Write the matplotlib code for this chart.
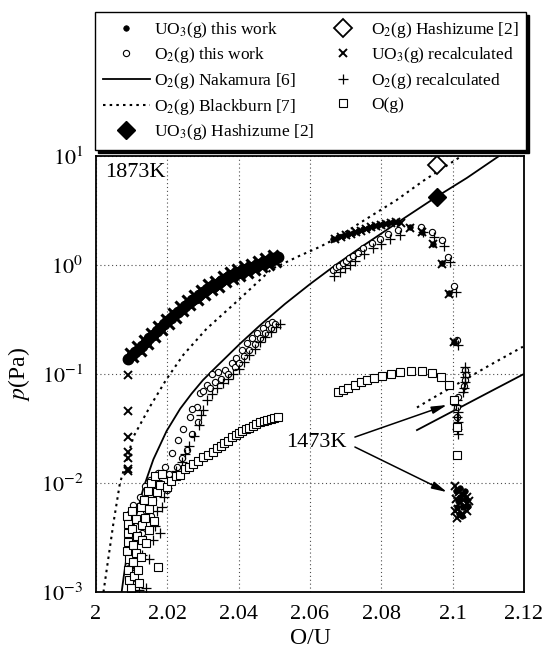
import matplotlib.pyplot as plt
from matplotlib.ticker import NullLocator

plt.rcParams['font.family'] = ['Liberation Serif', 'DejaVu Serif']
plt.rcParams['mathtext.fontset'] = 'stix'

# ---- model curves ----
nak_x = [2.0072, 2.0078, 2.0086, 2.0105, 2.0133, 2.0161, 2.0198, 2.0236, 2.0268, 2.0300,
         2.0338, 2.0404, 2.0460, 2.0530, 2.0600, 2.0670, 2.0750, 2.0850, 2.0955, 2.1040,
         2.1130]
nak_p = [0.0010, 0.0014, 0.0021, 0.0040, 0.0090, 0.0165, 0.030, 0.048, 0.066, 0.088,
         0.117, 0.190, 0.280, 0.440, 0.668, 0.99, 1.51, 2.51, 4.23, 6.3,
         10.0]
nak1473_x = [2.0900, 2.0936, 2.1105, 2.1197]
nak1473_p = [0.0306, 0.0353, 0.0689, 0.099]

bb_x = [2.0021, 2.0049, 2.0067, 2.0105, 2.0151, 2.0198, 2.0245, 2.0310, 2.0394, 2.0493,
        2.0572, 2.0628, 2.0665, 2.0750, 2.0843, 2.0917, 2.1025]
bb_p = [0.0010, 0.0043, 0.0099, 0.0266, 0.050, 0.090, 0.150, 0.260, 0.46, 0.92,
        1.22, 1.47, 1.70, 2.55, 3.95, 5.9, 10.0]
bb1473_x = [2.0900, 2.0936, 2.1105, 2.1197]
bb1473_p = [0.0493, 0.058, 0.121, 0.178]

# ---- UO3(g) this work ----
uo3_band_x = [2.009, 2.010, 2.011, 2.012, 2.013, 2.014, 2.015, 2.016, 2.017, 2.018,
              2.019, 2.020, 2.021, 2.022, 2.023, 2.024, 2.025, 2.026, 2.027, 2.028,
              2.029, 2.030, 2.031, 2.032, 2.033, 2.034, 2.035, 2.036, 2.037, 2.038,
              2.039, 2.040, 2.041, 2.042, 2.043, 2.044, 2.045, 2.046, 2.047, 2.048,
              2.049, 2.050, 2.051]
uo3_band_p = [0.138, 0.149, 0.160, 0.170, 0.182, 0.197, 0.213, 0.228, 0.246, 0.265,
              0.285, 0.305, 0.325, 0.345, 0.370, 0.395, 0.420, 0.450, 0.475, 0.500,
              0.530, 0.560, 0.600, 0.625, 0.645, 0.670, 0.710, 0.740, 0.770, 0.800,
              0.830, 0.855, 0.880, 0.905, 0.930, 0.960, 0.990, 1.020, 1.050, 1.080,
              1.110, 1.150, 1.190]
uo3_hi_x = [2.0665, 2.0679, 2.0693, 2.0707, 2.0721, 2.0735, 2.0749, 2.0763, 2.0777, 2.0791,
            2.0805, 2.0820, 2.0834, 2.0848, 2.0880, 2.0913, 2.0944, 2.0969, 2.0990, 2.1004]
uo3_hi_p = [1.72, 1.80, 1.85, 1.91, 1.98, 2.05, 2.12, 2.20, 2.28, 2.33,
            2.38, 2.44, 2.47, 2.47, 2.22, 2.02, 1.56, 1.04, 0.55, 0.198]
uo3_1473_x = [2.1010, 2.1015, 2.1022, 2.1030, 2.1038, 2.1012, 2.1025, 2.1020, 2.1035,
              2.1042, 2.1018, 2.1028]
uo3_1473_p = [0.0085, 0.0068, 0.0075, 0.0060, 0.0072, 0.0060, 0.0050, 0.0090, 0.0085,
              0.0062, 0.0052, 0.0080]

# ---- UO3(g) recalculated ----
uo3rc_band_x = [2.0095, 2.0105, 2.0115, 2.0125, 2.0135, 2.0145, 2.0155, 2.0165, 2.0175,
                2.0185, 2.0195, 2.0205, 2.0215, 2.0225, 2.0235, 2.0245, 2.0255, 2.0265,
                2.0275, 2.0285, 2.0295, 2.0305, 2.0315, 2.0325, 2.0335, 2.0345, 2.0355,
                2.0365, 2.0375, 2.0385, 2.0395, 2.0405, 2.0415, 2.0425, 2.0435, 2.0445,
                2.0455, 2.0465, 2.0475, 2.0485, 2.0495, 2.0505]
uo3rc_band_p = [0.156, 0.142, 0.180, 0.162, 0.207, 0.189, 0.240, 0.218, 0.278,
                0.253, 0.322, 0.290, 0.365, 0.329, 0.417, 0.375, 0.474, 0.426,
                0.531, 0.474, 0.594, 0.534, 0.668, 0.584, 0.717, 0.635, 0.790,
                0.695, 0.856, 0.750, 0.918, 0.798, 0.973, 0.844, 1.030, 0.897,
                1.095, 0.952, 1.161, 1.007, 1.232, 1.076]
uo3rc_col_x = [2.0091, 2.0091, 2.0091, 2.0091, 2.0091, 2.0091, 2.0091]
uo3rc_col_p = [0.098, 0.046, 0.0266, 0.0194, 0.0168, 0.0134, 0.0128]
uo3rc_hi_x = [2.0670, 2.0686, 2.0700, 2.0714, 2.0728, 2.0742, 2.0756, 2.0770, 2.0784, 2.0798,
              2.0812, 2.0827, 2.0841, 2.0855, 2.0880, 2.0913, 2.0944, 2.0969, 2.0990, 2.1004]
uo3rc_hi_p = [1.74, 1.79, 1.88, 1.93, 2.00, 2.07, 2.14, 2.22, 2.27, 2.35,
              2.40, 2.45, 2.48, 2.45, 2.20, 2.00, 1.55, 1.03, 0.54, 0.196]
uo3rc_1473_x = [2.1006, 2.1010, 2.1020, 2.1015, 2.1030, 2.1040, 2.1025, 2.1012, 2.1035,
                2.1045, 2.1018, 2.1028, 2.1008, 2.1040]
uo3rc_1473_p = [0.0093, 0.0072, 0.0065, 0.0058, 0.0080, 0.0075, 0.0052, 0.0048, 0.0062,
                0.0068, 0.0083, 0.0070, 0.0055, 0.0055]

# ---- O2(g) this work ----
o2_low_x = [2.0100, 2.0095, 2.0091, 2.0091, 2.0095, 2.0105, 2.0123, 2.0137, 2.0151, 2.0175,
            2.0193, 2.0212, 2.0231, 2.0245, 2.0264, 2.0282, 2.0292, 2.0254, 2.0226, 2.0198,
            2.0161, 2.0140, 2.0120, 2.0110, 2.0105, 2.0130, 2.0155, 2.0180, 2.0205, 2.0240,
            2.0270, 2.0285, 2.0268, 2.0300, 2.0310, 2.0320, 2.0324, 2.0335, 2.0343, 2.0350,
            2.0362, 2.0370, 2.0380, 2.0390, 2.0394, 2.0400, 2.0409, 2.0415, 2.0423, 2.0430,
            2.0437, 2.0445, 2.0451, 2.0460, 2.0469, 2.0475, 2.0483, 2.0490, 2.0493, 2.0502]
o2_low_p = [0.0012, 0.0017, 0.0026, 0.0037, 0.0053, 0.0063, 0.0075, 0.0093, 0.0107, 0.0123,
            0.0141, 0.0187, 0.0248, 0.031, 0.040, 0.050, 0.0665, 0.020, 0.0141, 0.0086,
            0.0070, 0.0055, 0.0045, 0.0030, 0.0021, 0.0035, 0.0050, 0.0100, 0.0120, 0.0170,
            0.028, 0.036, 0.048, 0.070, 0.080, 0.075, 0.101, 0.085, 0.105, 0.090,
            0.109, 0.100, 0.125, 0.115, 0.139, 0.125, 0.166, 0.145, 0.191, 0.165,
            0.212, 0.190, 0.236, 0.215, 0.262, 0.240, 0.288, 0.265, 0.302, 0.290]
o2_hi_x = [2.0665, 2.0672, 2.0680, 2.0693, 2.0700, 2.0710, 2.0721, 2.0735, 2.0749, 2.0773,
           2.0796, 2.0820, 2.0848, 2.0910, 2.0941, 2.0969, 2.0988, 2.1004, 2.1011]
o2_hi_p = [0.90, 0.95, 0.98, 1.04, 1.08, 1.15, 1.21, 1.30, 1.42, 1.58,
           1.72, 1.92, 2.10, 2.24, 2.02, 1.69, 1.19, 0.64, 0.205]
o2_1473_x = [2.1035, 2.1037, 2.1035, 2.1033, 2.1015, 2.1012, 2.1013, 2.1015]
o2_1473_p = [0.110, 0.098, 0.088, 0.078, 0.062, 0.050, 0.040, 0.033]

# ---- O2(g) recalculated ----
o2rc_low_x = [2.0105, 2.0120, 2.0140, 2.0112, 2.0130, 2.0150, 2.0160, 2.0165, 2.0179, 2.0170,
              2.0185, 2.0190, 2.0200, 2.0215, 2.0225, 2.0240, 2.0250, 2.0262, 2.0275, 2.0288,
              2.0295, 2.0300, 2.0310, 2.0325, 2.0340, 2.0355, 2.0370, 2.0385, 2.0400, 2.0415,
              2.0430, 2.0445, 2.0460, 2.0475, 2.0490, 2.0505, 2.0515]
o2rc_low_p = [0.00102, 0.00105, 0.00108, 0.0016, 0.0022, 0.0020, 0.0030, 0.0040, 0.0035, 0.0055,
              0.0060, 0.0075, 0.0090, 0.0110, 0.0130, 0.0155, 0.0185, 0.022, 0.027, 0.034,
              0.042, 0.047, 0.058, 0.065, 0.075, 0.082, 0.090, 0.100, 0.112, 0.130,
              0.150, 0.170, 0.195, 0.220, 0.245, 0.270, 0.285]
o2rc_hi_x = [2.0668, 2.0683, 2.0698, 2.0712, 2.0726, 2.0752, 2.0777, 2.0800, 2.0825, 2.0853,
             2.0916, 2.0947, 2.0975, 2.0994, 2.1009, 2.1015]
o2rc_hi_p = [0.80, 0.86, 0.93, 1.00, 1.08, 1.27, 1.42, 1.55, 1.73, 1.90,
             2.00, 1.80, 1.50, 1.06, 0.57, 0.185]
o2rc_1473_x = [2.1035, 2.1036, 2.1034, 2.1036, 2.1033, 2.1030, 2.1012, 2.1010, 2.1014,
               2.1012, 2.1015, 2.1013, 2.1016]
o2rc_1473_p = [0.115, 0.105, 0.094, 0.085, 0.075, 0.068, 0.058, 0.052, 0.045,
               0.040, 0.036, 0.031, 0.028]

# ---- O(g) ----
og_low_x = [2.0088, 2.0090, 2.0089, 2.0091, 2.0088, 2.0092, 2.0090, 2.0093, 2.0098, 2.0100,
            2.0102, 2.0105, 2.0104, 2.0108, 2.0112, 2.0115, 2.0113, 2.0118, 2.0120, 2.0125,
            2.0128, 2.0130, 2.0127, 2.0135, 2.0138, 2.0140, 2.0145, 2.0148, 2.0150, 2.0155,
            2.0158, 2.0162, 2.0165, 2.0170, 2.0175, 2.0180, 2.0185, 2.0198, 2.0210, 2.0225,
            2.0236, 2.0250, 2.0262, 2.0273, 2.0285, 2.0300, 2.0315, 2.0329, 2.0340, 2.0350,
            2.0360, 2.0370, 2.0382, 2.0394, 2.0402, 2.0410, 2.0420, 2.0430, 2.0440, 2.0450,
            2.0460, 2.0470, 2.0480, 2.0490, 2.0500, 2.0511]
og_low_p = [0.0050, 0.0042, 0.0035, 0.0029, 0.0024, 0.0020, 0.0016, 0.0013, 0.0011, 0.0055,
            0.0038, 0.0027, 0.0019, 0.0014, 0.0047, 0.0033, 0.0023, 0.0016, 0.0012, 0.0060,
            0.0041, 0.0030, 0.0021, 0.0070, 0.0048, 0.0028, 0.0085, 0.0058, 0.0037, 0.0100,
            0.0068, 0.0045, 0.0115, 0.0082, 0.0017, 0.0095, 0.0120, 0.0092, 0.0105, 0.0115,
            0.0118, 0.0135, 0.0140, 0.0150, 0.0160, 0.0172, 0.0180, 0.0194, 0.0208, 0.0220,
            0.0232, 0.0245, 0.0262, 0.0275, 0.0288, 0.0300, 0.0310, 0.0320, 0.0335, 0.0350,
            0.0360, 0.0370, 0.0380, 0.0390, 0.0398, 0.0406]
og_hi_x = [2.0679, 2.0693, 2.0707, 2.0726, 2.0743, 2.0759, 2.0779, 2.0801, 2.0826, 2.0852,
           2.0882, 2.0913, 2.0941, 2.0966, 2.0990, 2.1005, 2.1011, 2.1011]
og_hi_p = [0.068, 0.071, 0.074, 0.079, 0.084, 0.088, 0.091, 0.096, 0.101, 0.105,
           0.107, 0.107, 0.103, 0.094, 0.079, 0.058, 0.033, 0.018]

# ---- Hashizume [2] ----
hashi_x = [2.0955]
hashi_uo3_p = [4.24]
hashi_o2_p = [8.3]

xticks = [2.0, 2.02, 2.04, 2.06, 2.08, 2.10, 2.12]
xtick_labels = ['2', '2.02', '2.04', '2.06', '2.08', '2.1', '2.12']
yticks = [1e-3, 1e-2, 1e-1, 1e0, 1e1]
ytick_labels = ['$10^{-3}$', '$10^{-2}$', '$10^{-1}$', '$10^{0}$', '$10^{1}$']

fig = plt.figure(figsize=(5.45, 6.57), dpi=100)
ax = fig.add_axes([0.1761, 0.0989, 0.7853, 0.6636])
ax.set_yscale('log')
ax.set_xlim(2.0, 2.12)
ax.set_ylim(1e-3, 1e1)

dot = dict(ls='none', marker='o', ms=4, mfc='k', mec='k', mew=0.5)
circ = dict(ls='none', marker='o', ms=4.5, mfc='white', mec='k', mew=0.8)
cross = dict(ls='none', marker='x', ms=5.5, mec='k', mew=1.4)
plus = dict(ls='none', marker='+', ms=6.5, mec='k', mew=0.9)
sq = dict(ls='none', marker='s', ms=5.5, mfc='white', mec='k', mew=0.8)

h_nak, = ax.plot(nak_x, nak_p, 'k-', lw=1.3)
ax.plot(nak1473_x, nak1473_p, 'k-', lw=1.3)
h_bb, = ax.plot(bb_x, bb_p, color='k', ls=(0, (1.2, 2.0)), lw=1.5)
ax.plot(bb1473_x, bb1473_p, color='k', ls=(0, (1.2, 2.0)), lw=1.5)

h_o2, = ax.plot(o2_low_x, o2_low_p, **circ)
ax.plot(o2_hi_x, o2_hi_p, **circ)
ax.plot(o2_1473_x, o2_1473_p, **circ)
h_o2rc, = ax.plot(o2rc_low_x, o2rc_low_p, **plus)
ax.plot(o2rc_hi_x, o2rc_hi_p, **plus)
ax.plot(o2rc_1473_x, o2rc_1473_p, **plus)
h_og, = ax.plot(og_low_x, og_low_p, **sq)
ax.plot(og_hi_x, og_hi_p, **sq)

h_uo3rc, = ax.plot(uo3rc_col_x, uo3rc_col_p, **cross)
ax.plot(uo3rc_band_x, uo3rc_band_p, ls='none', marker='x', ms=7, mec='k', mew=2.2)
ax.plot(uo3rc_hi_x, uo3rc_hi_p, **cross)
ax.plot(uo3rc_1473_x, uo3rc_1473_p, **cross)
ax.plot(uo3_band_x, uo3_band_p, ls='none', marker='o', ms=7.5, mfc='k', mec='k')
h_uo3, = ax.plot(uo3_hi_x, uo3_hi_p, **dot)
ax.plot(uo3_1473_x, uo3_1473_p, **dot)

h_hu, = ax.plot(hashi_x, hashi_uo3_p, ls='none', marker='D', ms=9, mfc='k', mec='k')
h_ho, = ax.plot(hashi_x, hashi_o2_p, ls='none', marker='D', ms=9, mfc='white', mec='k', mew=1.3)

ax.grid(True, which='major', ls=(0, (1, 2.5)), lw=0.8, color='0.3')
ax.yaxis.set_minor_locator(NullLocator())
ax.set_xticks(xticks)
ax.set_xticklabels(xtick_labels)
ax.set_yticks(yticks)
ax.set_yticklabels(ytick_labels)
ax.tick_params(length=0, pad=9, labelsize=16)
for s in ax.spines.values():
    s.set_linewidth(1.3)
ax.set_xlabel('O/U', fontsize=17, labelpad=3)
ax.set_ylabel('$p$(Pa)', fontsize=17, labelpad=6)

ax.text(0.022, 0.985, '1873K', transform=ax.transAxes, ha='left', va='top', fontsize=16)
ax.text(2.0704, 0.0233, '1473K', ha='right', va='center', fontsize=16)
arrow = dict(arrowstyle='-|>,head_length=0.9,head_width=0.22', color='k', lw=1.1,
             shrinkA=0, shrinkB=0)
ax.annotate('', xy=(2.0984, 0.052), xytext=(2.0726, 0.0264), arrowprops=arrow)
ax.annotate('', xy=(2.0984, 0.00826), xytext=(2.0726, 0.0214), arrowprops=arrow)

handles = [h_uo3, h_o2, h_nak, h_bb, h_hu, h_ho, h_uo3rc, h_o2rc, h_og]
labels = ['UO$_3$(g) this work', 'O$_2$(g) this work', 'O$_2$(g) Nakamura [6]',
          'O$_2$(g) Blackburn [7]', 'UO$_3$(g) Hashizume [2]', 'O$_2$(g) Hashizume [2]',
          'UO$_3$(g) recalculated', 'O$_2$(g) recalculated', 'O(g)']

leg_fs = 12.5
leg_box_w, leg_box_h = 425, 138  # target frame size in pixels


def make_legend(colsp, labsp):
    lg = fig.legend(handles, labels, ncol=2, loc='upper left',
                    bbox_to_anchor=(0.1743, 0.9817), borderaxespad=0, fontsize=leg_fs,
                    frameon=True, fancybox=False, edgecolor='k', framealpha=1,
                    borderpad=0.45, labelspacing=labsp, handlelength=2.7,
                    handletextpad=0.25, columnspacing=colsp,
                    shadow={'color': 'k', 'alpha': 1, 'ox': 2, 'oy': -2})
    lg.get_frame().set_linewidth(1.0)
    return lg


# fit the legend frame to the box of the original
leg = make_legend(0.6, 0.2)
fig.canvas.draw()
fb = leg.get_frame().get_window_extent()
fs_px = leg_fs * fig.dpi / 72
colsp = max(0.3, 0.6 + (leg_box_w - fb.width) / fs_px)
labsp = max(0.0, 0.2 + (leg_box_h - fb.height) / (4 * fs_px))
leg.remove()
leg = make_legend(colsp, labsp)

fig.savefig('out.png', dpi=100)
